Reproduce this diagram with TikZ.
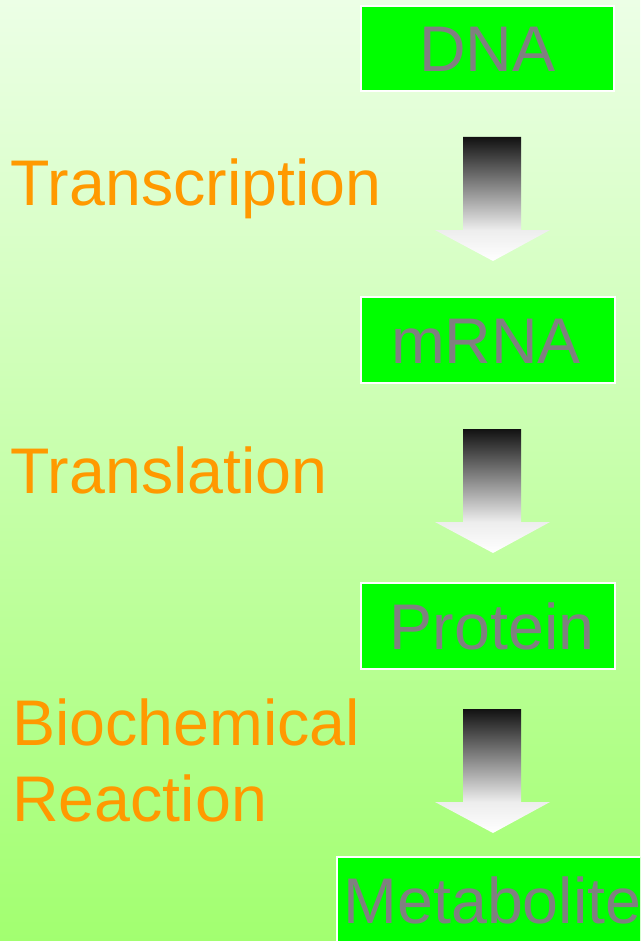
\documentclass[tikz,border=0pt]{standalone}
\usepackage{fontspec}
\setmainfont{Liberation Sans}
\definecolor{bgtop}{RGB}{236,255,230}
\definecolor{bgbot}{RGB}{162,255,112}
\definecolor{boxgreen}{RGB}{0,255,0}
\definecolor{txtgray}{RGB}{128,128,128}
\definecolor{lblorange}{RGB}{255,153,0}
\pgfdeclareverticalshading{blockarrowshade}{100bp}{rgb(0bp)=(1,1,1); rgb(25bp)=(1,1,1); rgb(37.5bp)=(0.93,0.93,0.93); rgb(75bp)=(0.07,0.07,0.07); rgb(100bp)=(0.07,0.07,0.07)}
\tikzset{
  stagebox/.style={draw=white, line width=1.1pt, fill=boxgreen, text=txtgray,
    inner sep=0pt, text height=34.6pt, text depth=0pt,
    font=\fontsize{48.4}{56}\selectfont},
  steplabel/.style={anchor=base west, inner sep=0pt, text=lblorange,
    font=\fontsize{48.4}{56}\selectfont},
  blockarrow/.style={shading=blockarrowshade}
}
\begin{document}
\begin{tikzpicture}[x=0.75pt, y=-0.75pt]
\useasboundingbox (0,0) rectangle (640,941);
\clip (0,0) rectangle (640,941);
\shade[top color=bgtop, bottom color=bgbot] (0,0) rectangle (640,941);

\node[stagebox, minimum width=190pt, minimum height=63.75pt] (dna) at (487.5,48.5) {DNA};
\node[stagebox, minimum width=190.5pt, minimum height=64.5pt] (mrna) at (488,340) {\hspace*{-3pt}mRNA};
\node[stagebox, minimum width=190.5pt, minimum height=64.5pt] (protein) at (488,626) {\hspace*{6pt}Protein};
\node[stagebox, minimum width=233pt, minimum height=64.5pt] (metabolite) at (492.5,900) {Metabolite};

\node[steplabel] (transcription) at (10.5,205) {Transcription};
\node[steplabel] (translation) at (10.5,493) {Translation};
\node[steplabel] (biochemical) at (12,745) {Biochemical};
\node[steplabel] (reaction) at (12,821) {Reaction};

\foreach \t in {137,429,709}{
  \shade[blockarrow] (463,\t) -- (521,\t) -- (521,{\t+93}) -- (550,{\t+93})
    -- (493,{\t+124}) -- (435,{\t+93}) -- (463,{\t+93}) -- cycle;
}
\end{tikzpicture}
\end{document}
